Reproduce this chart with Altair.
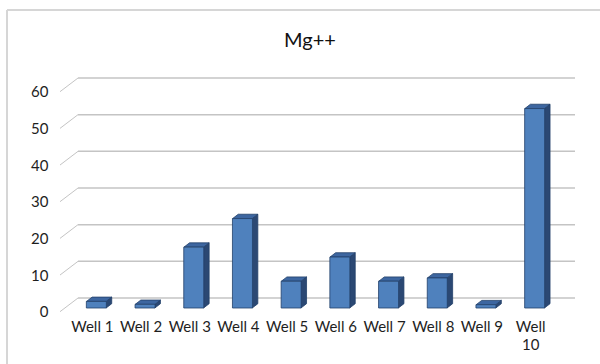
import altair as alt
import pandas as pd

# Magnesium (Mg++) readings per well
wells = ["Well 1", "Well 2", "Well 3", "Well 4", "Well 5",
         "Well 6", "Well 7", "Well 8", "Well 9", "Well 10"]
mg = [1.8, 1.0, 16.6, 24.4, 7.3, 13.9, 7.3, 8.2, 0.9, 54.4]
y_ticks = [0, 10, 20, 30, 40, 50, 60]
title_text = "Mg++"

# plot area (pixels) and pseudo-3D geometry
W, H = 497, 220
PAD_L, PAD_T = 67, 88
N = len(wells)
Y_MAX = 60
px_x = W / N
px_y = H / Y_MAX
half = 10 / px_x          # half width of a column's front face
depth_x = 5.7 / px_x      # receding depth, horizontal part
depth_y = 4.3 / px_y      # receding depth, vertical part

FONT = "Lato"
FRONT = "#4F81BD"
SIDE = "#2B4873"
TOP = "#3D66A0"
EDGE = "#22406A"
GRID = "#C4C4C4"

pos = [i + 0.5 for i in range(N)]
bars = pd.DataFrame({
    "well": wells,
    "pos": pos,
    "mg": mg,
    "label": [w.replace(" ", "\n") if len(w) > 6 else w for w in wells],
})

side_rows, top_rows = [], []
for w, p, v in zip(wells, pos, mg):
    side_rows.append({"well": w, "sx": p + half, "hi": v, "lo": 0})
    side_rows.append({"well": w, "sx": p + half + depth_x,
                      "hi": v + depth_y, "lo": depth_y})
    top_rows.append({"well": w, "ty": v, "xa": p - half, "xb": p + half})
    top_rows.append({"well": w, "ty": v + depth_y,
                     "xa": p - half + depth_x, "xb": p + half + depth_x})
side = pd.DataFrame(side_rows)
top = pd.DataFrame(top_rows)
grid = pd.DataFrame({"v": y_ticks})

xs = alt.Scale(domain=[0, N], nice=False, zero=False)
ys = alt.Scale(domain=[0, Y_MAX], nice=False)
yax = alt.Axis(values=y_ticks, domain=False, ticks=False, grid=False, title=None,
               labelPadding=19, labelOffset=3.7, labelFont=FONT, labelFontSize=15,
               labelColor="#1E1E1E")

# back-wall gridlines
back_grid = alt.Chart(grid).mark_rule(color=GRID, strokeWidth=1.5, yOffset=-10).encode(
    x=alt.value(11), x2=alt.value(508),
    y=alt.Y("v:Q", scale=ys, axis=yax),
)

# floor-edge connectors from the labels to the back wall
connectors = alt.Chart(grid).mark_rule(color=GRID, strokeWidth=1,
                                       yOffset=3.7, y2Offset=-10).encode(
    x=alt.value(-7), x2=alt.value(11),
    y=alt.Y("v:Q", scale=ys, axis=yax),
    y2="v:Q",
)

# right-hand side of each column (parallelogram)
side_faces = alt.Chart(side).mark_area(fill=SIDE, fillOpacity=1, stroke=EDGE,
                                       strokeWidth=0.8).encode(
    x=alt.X("sx:Q", scale=xs, axis=None),
    y=alt.Y("hi:Q", scale=ys, axis=yax, stack=None),
    y2="lo:Q",
    detail="well:N",
)

# top of each column (parallelogram)
top_faces = alt.Chart(top).mark_area(fill=TOP, fillOpacity=1, stroke=EDGE,
                                     strokeWidth=0.8, orient="horizontal").encode(
    y=alt.Y("ty:Q", scale=ys, axis=yax),
    x=alt.X("xa:Q", scale=xs, axis=None, stack=None),
    x2="xb:Q",
    detail="well:N",
)

front = alt.Chart(bars).mark_bar(size=20, color=FRONT, stroke=EDGE,
                                 strokeWidth=0.8).encode(
    x=alt.X("pos:Q", scale=xs, axis=None),
    y=alt.Y("mg:Q", scale=ys, axis=yax),
)

labels = alt.Chart(bars).mark_text(font=FONT, fontSize=15, color="#1E1E1E",
                                   baseline="alphabetic", lineBreak="\n",
                                   lineHeight=18, dx=-4).encode(
    x=alt.X("pos:Q", scale=xs, axis=None),
    y=alt.value(H + 24),
    text="label:N",
)

title = alt.Chart(pd.DataFrame({"t": [title_text]})).mark_text(
    font=FONT, fontSize=20, color="#111111", baseline="alphabetic", align="center"
).encode(x=alt.value(310 - PAD_L), y=alt.value(47 - PAD_T), text="t:N")

# outer frame of the chart
frame = pd.DataFrame({"f": [0]})
frame_left = alt.Chart(frame).mark_rule(color="#D6D6D6", strokeWidth=2).encode(
    x=alt.value(7 - PAD_L), y=alt.value(10 - PAD_T), y2=alt.value(364 - PAD_T))
frame_top = alt.Chart(frame).mark_rule(color="#D6D6D6", strokeWidth=2).encode(
    x=alt.value(7 - PAD_L), x2=alt.value(600 - PAD_L), y=alt.value(10 - PAD_T))

chart = alt.layer(
    back_grid, connectors, frame_left, frame_top, title,
    side_faces, top_faces, front, labels,
).properties(
    width=W, height=H,
    autosize=alt.AutoSizeParams(type="none"),
    padding={"left": PAD_L, "top": PAD_T, "right": 600 - PAD_L - W,
             "bottom": 364 - PAD_T - H},
    background="white",
).configure_view(stroke=None)

chart.save("out.html", embed_options={"renderer": "svg", "actions": False})
